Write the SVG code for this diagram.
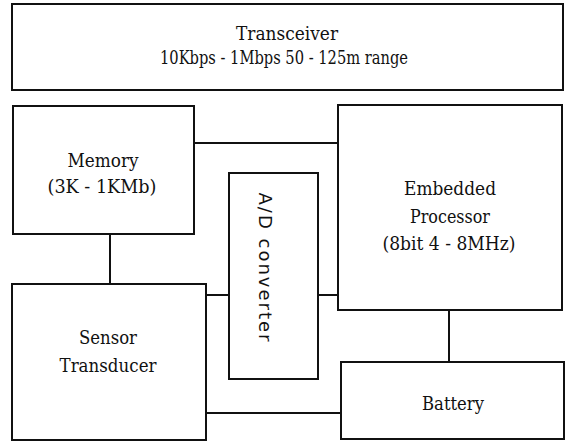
<svg xmlns="http://www.w3.org/2000/svg" width="568" height="443" viewBox="0 0 568 443">
<style>
.box{fill:#fff;stroke:#111;stroke-width:2}
.ln{stroke:#111;stroke-width:2;fill:none}
.t{font-size:19px;fill:#111;text-anchor:middle}
.v{font-size:18px;fill:#111;text-anchor:middle}
</style>
<rect width="568" height="443" fill="#fff"/>
<g id="connectors">
<line class="ln" x1="194" y1="143" x2="338" y2="143"/>
<line class="ln" x1="110" y1="234" x2="110" y2="284"/>
<line class="ln" x1="206" y1="295" x2="229" y2="295"/>
<line class="ln" x1="318" y1="295" x2="338" y2="295"/>
<line class="ln" x1="449" y1="310" x2="449" y2="362"/>
<line class="ln" x1="206" y1="413" x2="341" y2="413"/>
</g>
<g font-family="DejaVu Serif, serif">
<g id="transceiver">
<rect class="box" x="12" y="4" width="551" height="86"/>
<text class="t" x="287" y="40" textLength="102" lengthAdjust="spacingAndGlyphs">Transceiver</text>
<text class="t" x="284" y="64" textLength="248" lengthAdjust="spacingAndGlyphs">10Kbps - 1Mbps  50 - 125m  range</text>
</g>
<g id="memory">
<rect class="box" x="13" y="106" width="181" height="128"/>
<text class="t" x="103" y="167" textLength="71" lengthAdjust="spacingAndGlyphs">Memory</text>
<text class="t" x="102" y="193" textLength="109" lengthAdjust="spacingAndGlyphs">(3K - 1KMb)</text>
</g>
<g id="adc">
<rect class="box" x="229" y="173" width="89" height="206"/>
<text class="v" font-family="DejaVu Sans, sans-serif" transform="translate(259,267) rotate(90)" textLength="149" lengthAdjust="spacing">A/D converter</text>
</g>
<g id="processor">
<rect class="box" x="338" y="105" width="224" height="205"/>
<text class="t" x="450" y="195" textLength="92" lengthAdjust="spacingAndGlyphs">Embedded</text>
<text class="t" x="450" y="223" textLength="80" lengthAdjust="spacingAndGlyphs">Processor</text>
<text class="t" x="449" y="250" textLength="133" lengthAdjust="spacingAndGlyphs">(8bit  4 - 8MHz)</text>
</g>
<g id="sensor">
<rect class="box" x="12" y="284" width="194" height="156"/>
<text class="t" x="108" y="344" textLength="58" lengthAdjust="spacingAndGlyphs">Sensor</text>
<text class="t" x="108" y="372" textLength="97" lengthAdjust="spacingAndGlyphs">Transducer</text>
</g>
<g id="battery">
<rect class="box" x="341" y="362" width="223" height="77"/>
<text class="t" x="453" y="410" textLength="62" lengthAdjust="spacingAndGlyphs">Battery</text>
</g>
</g>
</svg>
